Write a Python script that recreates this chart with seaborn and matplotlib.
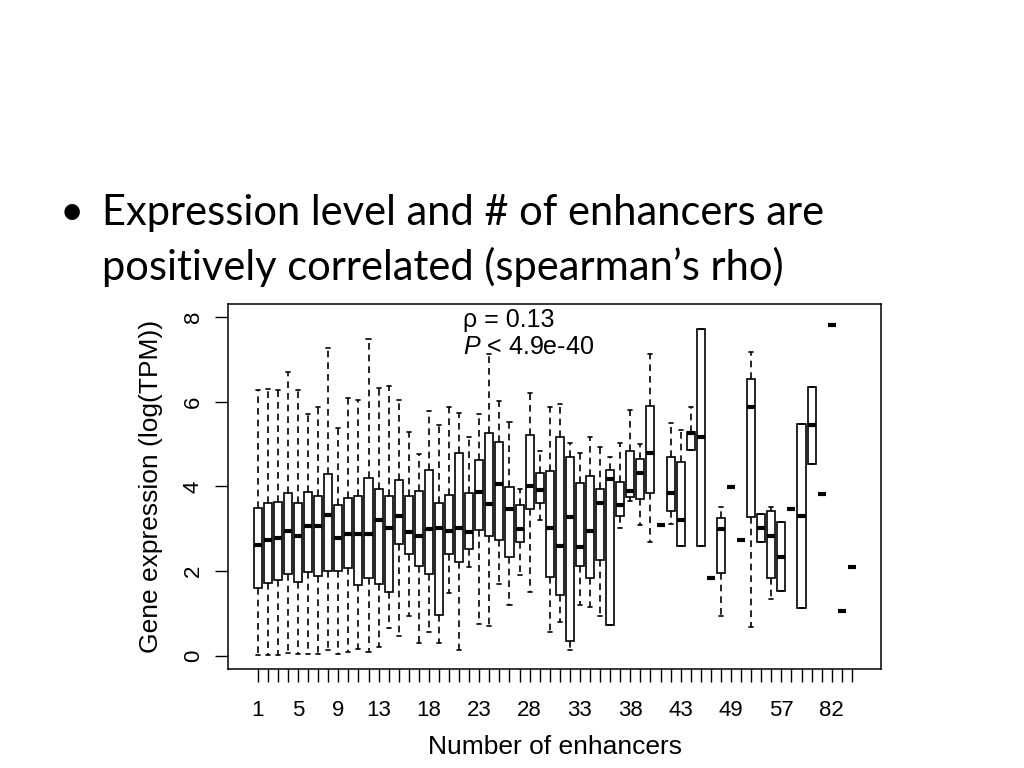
import matplotlib
matplotlib.use("Agg")
import matplotlib.pyplot as plt
import numpy as np
import pandas as pd
import seaborn as sns

# number of enhancers per gene (one box per value)
n_enhancers = list(range(1, 44)) + [44, 45, 46, 47, 49, 50, 51, 52, 54, 57,
                                    58, 60, 63, 69, 82, 90, 105]
labeled = [1, 5, 9, 13, 18, 23, 28, 33, 38, 43, 49, 57, 82]

# five-number summaries, log(TPM)
whisker_low = [0.02, 0.02, 0.02, 0.06, 0.04, 0.04, 0.04, 0.14, 0.04, 0.09,
               0.17, 0.10, 0.22, 0.65, 0.46, 0.94, 0.31, 0.57, 0.31, 1.49,
               0.14, 2.11, 0.75, 0.71, 1.70, 1.20, 1.91, 1.50, 3.21, 0.57,
               0.81, 0.13, 1.20, 1.16, 0.93, 0.73, 3.01, 3.65, 3.09, 2.70,
               3.09, 3.11, 2.59, 4.86, 2.60, 1.83, 0.93, 3.98, 2.74, 0.69,
               2.70, 1.34, 1.53, 3.48, 1.14, 4.54, 3.82, 7.81, 1.07, 2.09]
box_low = [1.61, 1.73, 1.78, 1.93, 1.75, 1.98, 1.89, 2.00, 2.00, 2.07,
           1.67, 1.85, 1.70, 1.50, 2.64, 2.41, 2.12, 1.93, 0.96, 2.41,
           2.21, 2.52, 2.97, 2.83, 2.74, 2.33, 2.69, 3.46, 3.61, 1.87,
           1.44, 0.36, 2.13, 1.83, 2.26, 0.73, 3.30, 3.76, 3.70, 3.85,
           3.09, 3.43, 2.59, 4.86, 2.60, 1.83, 1.95, 3.98, 2.74, 3.29,
           2.70, 1.83, 1.53, 3.48, 1.14, 4.54, 3.82, 7.81, 1.07, 2.09]
median = [2.62, 2.74, 2.78, 2.95, 2.83, 3.06, 3.06, 3.33, 2.78, 2.87,
          2.87, 2.87, 3.21, 3.03, 3.30, 2.93, 2.84, 2.99, 3.01, 2.96,
          3.03, 2.92, 3.87, 3.58, 4.05, 3.46, 2.99, 4.01, 3.92, 3.03,
          2.59, 3.28, 2.56, 2.96, 3.62, 4.17, 3.56, 3.90, 4.31, 4.78,
          3.09, 3.84, 3.21, 5.27, 5.17, 1.83, 2.99, 3.98, 2.74, 5.88,
          3.03, 2.84, 2.34, 3.48, 3.31, 5.45, 3.82, 7.81, 1.07, 2.09]
box_high = [3.50, 3.60, 3.63, 3.84, 3.62, 3.88, 3.78, 4.29, 3.57, 3.73,
            3.77, 4.19, 3.93, 3.78, 4.15, 3.77, 3.89, 4.38, 3.62, 3.80,
            4.78, 3.85, 4.62, 5.27, 5.06, 3.98, 3.56, 5.21, 4.32, 4.37,
            5.16, 4.69, 4.08, 4.25, 3.93, 4.39, 4.11, 4.84, 4.64, 5.90,
            3.09, 4.70, 4.57, 5.29, 7.71, 1.83, 3.25, 3.98, 2.74, 6.53,
            3.36, 3.43, 3.15, 3.48, 5.48, 6.35, 3.82, 7.81, 1.07, 2.09]
whisker_high = [6.27, 6.31, 6.27, 6.71, 6.29, 5.70, 5.88, 7.26, 5.39, 6.10,
                6.05, 7.49, 6.33, 6.37, 6.05, 5.29, 4.76, 5.78, 5.45, 5.87,
                5.74, 5.17, 5.70, 7.14, 6.03, 5.52, 3.95, 6.20, 4.84, 5.88,
                5.94, 5.02, 4.78, 5.17, 4.94, 4.70, 5.02, 5.80, 5.00, 7.14,
                3.09, 5.49, 5.33, 5.87, 7.71, 1.83, 3.52, 3.98, 2.74, 7.18,
                3.36, 3.51, 3.15, 3.48, 5.48, 6.35, 3.82, 7.81, 1.07, 2.09]


def main() -> None:
    rows = []
    for n, a, b, c, d, e in zip(n_enhancers, whisker_low, box_low, median,
                                box_high, whisker_high):
        for v in (a, b, c, d, e):
            rows.append((str(n), v))
    df = pd.DataFrame(rows, columns=["n", "value"])
    order = [str(n) for n in n_enhancers]

    sns.set_theme(style="ticks")
    plt.rcParams["font.family"] = ["Liberation Sans", "DejaVu Sans"]
    plt.rcParams["mathtext.fontset"] = "custom"
    plt.rcParams["mathtext.it"] = "Liberation Sans:italic"
    plt.rcParams["mathtext.rm"] = "Liberation Sans"

    fig = plt.figure(figsize=(10.24, 7.68), dpi=100)
    fig.patch.set_facecolor("white")
    ax = fig.add_axes([0.2227, 0.1289, 0.6377, 0.4753])

    sns.boxplot(
        data=df, x="n", y="value", order=order, ax=ax,
        color="white", linecolor="black", linewidth=1.2, width=0.8,
        whis=(0, 100), showfliers=False,
        whiskerprops={"linestyle": (0, (4, 3))},
        medianprops={"linewidth": 3.0, "solid_capstyle": "butt"},
    )

    ax.set_xlim(-2.95, 61.9)
    ax.set_ylim(-0.31, 8.31)
    ax.set_xticks(range(len(n_enhancers)))
    ax.set_xticklabels([str(n) if n in labeled else "" for n in n_enhancers])
    ax.set_yticks([0, 2, 4, 6, 8])
    ax.set_yticklabels(["0", "2", "4", "6", "8"], rotation=90, va="center")
    ax.tick_params(direction="out", length=9.4, width=1, colors="black",
                   labelsize=16)
    ax.tick_params(axis="x", pad=13)
    ax.tick_params(axis="y", pad=8)
    for side in ["left", "right", "top", "bottom"]:
        ax.spines[side].set_visible(True)
        ax.spines[side].set_color("black")
        ax.spines[side].set_linewidth(1.1)

    ax.set_xlabel("Number of enhancers", fontsize=19, labelpad=10,
                  color="black")
    ax.set_ylabel("Gene expression (log(TPM))", fontsize=19, labelpad=14,
                  color="black")

    ax.text(20.35, 7.94, "\u03c1 = 0.13", fontsize=18, va="center",
            ha="left", color="black")
    ax.text(20.35, 7.30, "$P$ < 4.9e-40", fontsize=18, va="center",
            ha="left", color="black")

    # slide bullet text
    slide_font = ["Lato", "DejaVu Sans"]
    fig.text(60 / 1024, 1 - 225 / 768, "\u2022", fontsize=30,
             family=slide_font, va="baseline", color="black")
    fig.text(101.7 / 1024, 1 - 225 / 768,
             "Expression level and # of enhancers are", fontsize=30,
             family=slide_font, va="baseline", color="black")
    fig.text(101.7 / 1024, 1 - 280 / 768,
             "positively correlated (spearman\u2019s rho)", fontsize=30,
             family=slide_font, va="baseline", color="black")

    fig.savefig("out.png", dpi=100)


if __name__ == "__main__":
    main()
